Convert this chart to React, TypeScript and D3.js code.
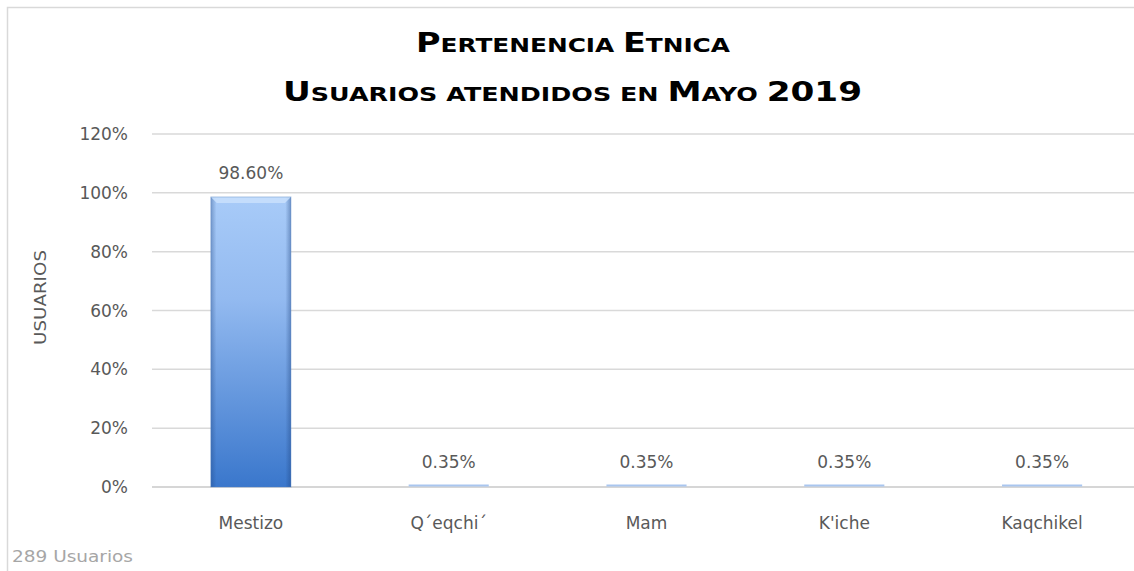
import React from "react";
import * as d3 from "d3";

const categories = ["Mestizo", "Q´eqchi´", "Mam", "K'iche", "Kaqchikel"];
const values = [0.986, 0.0035, 0.0035, 0.0035, 0.0035];
const valueLabels = ["98.60%", "0.35%", "0.35%", "0.35%", "0.35%"];
const yTicks = [0, 0.2, 0.4, 0.6, 0.8, 1.0, 1.2];

const W = 1134;
const H = 571;

export default function App() {
  const x = d3.scaleBand<string>().domain(categories).range([152, 1141]).padding(0);
  const y = d3.scaleLinear().domain([0, 1.2]).range([487, 134]);
  const barW = x.bandwidth() * 0.405;
  const fmt = d3.format(".0%");
  const font = "'DejaVu Sans', Verdana, sans-serif";
  const textColor = "#595959";

  return (
    <svg width={W} height={H} style={{ position: "absolute", left: 0, top: 0, background: "#fff" }}>
      <defs>
        <linearGradient id="gv" x1="0" y1="0" x2="0" y2="1">
          <stop offset="0" stopColor="#a8cbf8" />
          <stop offset="0.35" stopColor="#93baf0" />
          <stop offset="1" stopColor="#3a77cc" />
        </linearGradient>
        <linearGradient id="gh" x1="0" y1="0" x2="1" y2="0">
          <stop offset="0" stopColor="#1a3f7a" stopOpacity="0.35" />
          <stop offset="0.07" stopColor="#1a3f7a" stopOpacity="0.0" />
          <stop offset="0.93" stopColor="#1a3f7a" stopOpacity="0.0" />
          <stop offset="1" stopColor="#1a3f7a" stopOpacity="0.4" />
        </linearGradient>
      </defs>
      <rect x={7.5} y={7.5} width={W + 20} height={H + 20} fill="none" stroke="#d9d9d9" strokeWidth={1.5} />

      {/* Title */}
      <text x={416} y={52} textLength={314} lengthAdjust="spacingAndGlyphs" fontFamily={font} fontWeight="bold" fill="#000">
        <tspan fontSize={27}>P</tspan>
        <tspan fontSize={20}>ERTENENCIA </tspan>
        <tspan fontSize={27}>E</tspan>
        <tspan fontSize={20}>TNICA</tspan>
      </text>
      <text x={283} y={101} textLength={579} lengthAdjust="spacingAndGlyphs" fontFamily={font} fontWeight="bold" fill="#000">
        <tspan fontSize={27}>U</tspan>
        <tspan fontSize={20}>SUARIOS ATENDIDOS EN </tspan>
        <tspan fontSize={27}>M</tspan>
        <tspan fontSize={20}>AYO </tspan>
        <tspan fontSize={27}>2019</tspan>
      </text>

      {/* Gridlines */}
      {yTicks.map((t) => (
        <line key={t} x1={152} x2={W} y1={y(t)} y2={y(t)} stroke={t === 0 ? "#c8c8c8" : "#d9d9d9"} strokeWidth={1.5} />
      ))}
      {yTicks.map((t) => (
        <text key={"l" + t} x={128} y={y(t)} dy="0.36em" textAnchor="end" fontFamily={font} fontSize={17} fill={textColor}>
          {fmt(t)}
        </text>
      ))}

      {/* Y axis title */}
      <text
        transform={`translate(46,345) rotate(-90)`}
        textLength={95}
        lengthAdjust="spacingAndGlyphs"
        fontFamily={font}
        fontSize={15}
        fill={textColor}
      >
        USUARIOS
      </text>

      {/* Bars */}
      {categories.map((c, i) => {
        const cx = (x(c) as number) + x.bandwidth() / 2;
        const x0 = cx - barW / 2;
        const top = y(values[i]);
        const h = Math.max(y(0) - top, 1.5);
        const big = h > 10;
        return (
          <g key={c}>
            {big ? (
              <>
                <rect x={x0} y={top} width={barW} height={h} fill="url(#gv)" />
                <rect x={x0} y={top} width={barW} height={h} fill="url(#gh)" />
                <polygon
                  points={`${x0},${top} ${x0 + barW},${top} ${x0 + barW - 6},${top + 6} ${x0 + 6},${top + 6}`}
                  fill="#c9e0fd"
                  opacity={0.85}
                />
                <rect x={x0} y={top} width={barW} height={h} fill="none" stroke="#4f7fc0" strokeOpacity={0.4} strokeWidth={1} />
              </>
            ) : (
              <rect x={x0} y={y(0) - 2.5} width={barW} height={2} fill="#a9c6ef" />
            )}
            <text x={cx} y={(big ? top : y(0) - 1) - 18} textAnchor="middle" fontFamily={font} fontSize={17} fill={textColor}>
              {valueLabels[i]}
            </text>
            <text x={cx} y={529} textAnchor="middle" fontFamily={font} fontSize={17} fill={textColor}>
              {c}
            </text>
          </g>
        );
      })}

      <text x={12} y={562} textLength={121} lengthAdjust="spacingAndGlyphs" fontFamily={font} fontSize={16} fill="#a6a6a6">
        289 Usuarios
      </text>
    </svg>
  );
}
